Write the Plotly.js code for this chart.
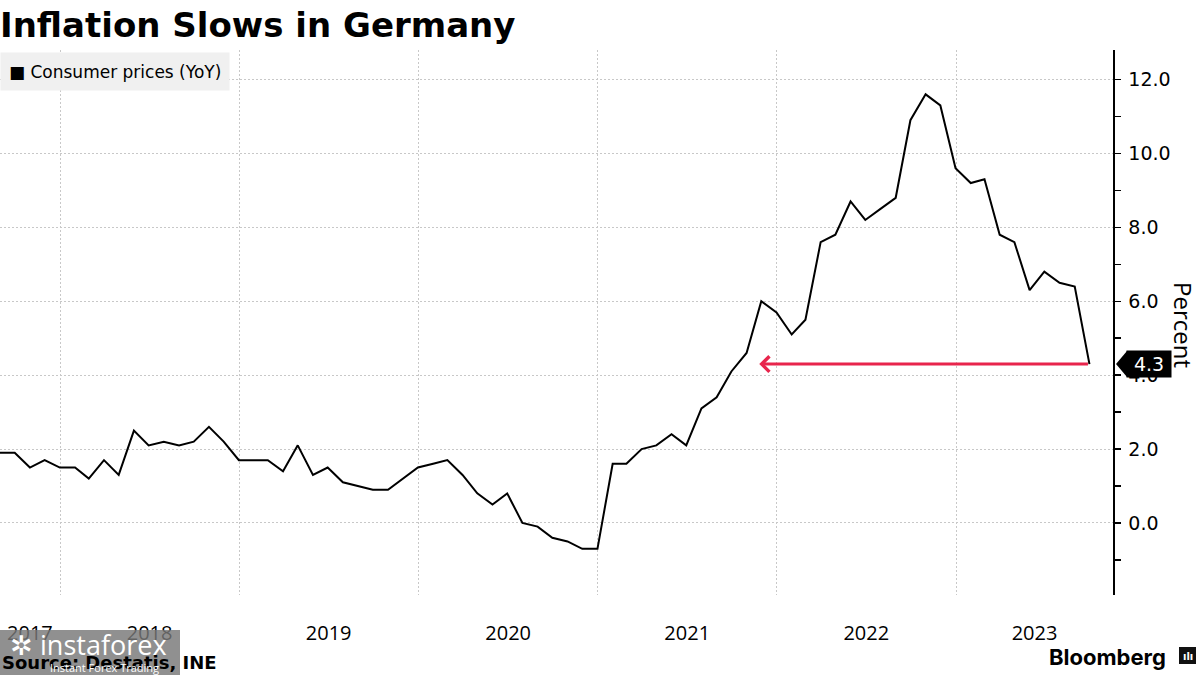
<!DOCTYPE html>
<html>
<head>
<meta charset="utf-8">
<script src="https://cdn.plot.ly/plotly-3.0.1.min.js"></script>
<style>
html,body{margin:0;padding:0;background:#fff;}
#chart{width:1200px;height:675px;}
</style>
</head>
<body>
<div id="chart"></div>
<script>
// ---------- data ----------
const chartTitle = 'Inflation Slows in Germany';
const seriesName = 'Consumer prices (YoY)';
const yTitle = 'Percent';
const sourceText = 'Source: Destatis, INE';
const brandText = 'Bloomberg';

const months = [
  '2017-08','2017-09','2017-10','2017-11','2017-12',
  '2018-01','2018-02','2018-03','2018-04','2018-05','2018-06','2018-07','2018-08','2018-09','2018-10','2018-11','2018-12',
  '2019-01','2019-02','2019-03','2019-04','2019-05','2019-06','2019-07','2019-08','2019-09','2019-10','2019-11','2019-12',
  '2020-01','2020-02','2020-03','2020-04','2020-05','2020-06','2020-07','2020-08','2020-09','2020-10','2020-11','2020-12',
  '2021-01','2021-02','2021-03','2021-04','2021-05','2021-06','2021-07','2021-08','2021-09','2021-10','2021-11','2021-12',
  '2022-01','2022-02','2022-03','2022-04','2022-05','2022-06','2022-07','2022-08','2022-09','2022-10','2022-11','2022-12',
  '2023-01','2023-02','2023-03','2023-04','2023-05','2023-06','2023-07','2023-08','2023-09'
];

const consumerPricesYoY = [
  1.9, 1.9, 1.5, 1.7, 1.5,
  1.5, 1.2, 1.7, 1.3, 2.5, 2.1, 2.2, 2.1, 2.2, 2.6, 2.2, 1.7,
  1.7, 1.7, 1.4, 2.1, 1.3, 1.5, 1.1, 1.0, 0.9, 0.9, 1.2, 1.5,
  1.6, 1.7, 1.3, 0.8, 0.5, 0.8, 0.0, -0.1, -0.4, -0.5, -0.7, -0.7,
  1.6, 1.6, 2.0, 2.1, 2.4, 2.1, 3.1, 3.4, 4.1, 4.6, 6.0, 5.7,
  5.1, 5.5, 7.6, 7.8, 8.7, 8.2, 8.5, 8.8, 10.9, 11.6, 11.3, 9.6,
  9.2, 9.3, 7.8, 7.6, 6.3, 6.8, 6.5, 6.4, 4.3
];

const yearLabels = ['2017','2018','2019','2020','2021','2022','2023'];

// ---------- helpers ----------
const W = 1200, H = 675;
const M = {l: 0, r: 87, t: 50, b: 80};
const px = x => (x - M.l) / (W - M.l - M.r);
const py = y => (H - M.b - y) / (H - M.t - M.b);

function monthEnd(m) {
  const [y, mo] = m.split('-').map(Number);
  return new Date(Date.UTC(y, mo, 0)).toISOString().slice(0, 10);
}
const dates = months.map(monthEnd);
const xStart = dates[0];
const xEnd = '2023-11-17';

const toMs = s => new Date(s + 'T00:00:00Z').getTime();
const msToStr = ms => new Date(ms).toISOString().slice(0, 10);

// year label positions: centre of the visible part of each year
const tickVals = yearLabels.map(y => {
  const a = Math.max(toMs(y + '-01-01'), toMs(xStart));
  const b = Math.min(toMs((+y + 1) + '-01-01'), toMs(xEnd));
  return msToStr((a + b) / 2);
});

// last value and the previous time the series was at that level
const n = consumerPricesYoY.length;
const lastVal = consumerPricesYoY[n - 1];
const lastDate = dates[n - 1];
let crossDate = dates[0];
for (let i = n - 3; i >= 0; i--) {
  const a = consumerPricesYoY[i], b = consumerPricesYoY[i + 1];
  if ((a - lastVal) * (b - lastVal) <= 0 && a !== b) {
    const f = (lastVal - a) / (b - a);
    crossDate = msToStr(toMs(dates[i]) + f * (toMs(dates[i + 1]) - toMs(dates[i])));
    break;
  }
}

const gridStyle = {gridcolor: '#c8c8c8', gridwidth: 1, griddash: '2px,2px'};

const trace = {
  type: 'scatter',
  mode: 'lines',
  name: seriesName,
  x: dates,
  y: consumerPricesYoY,
  line: {color: '#000000', width: 2},
  hoverinfo: 'x+y',
  showlegend: false
};

const layout = {
  width: W, height: H,
  margin: M,
  paper_bgcolor: '#ffffff',
  plot_bgcolor: '#ffffff',
  showlegend: false,
  title: {
    text: chartTitle,
    x: 0, xref: 'container', xanchor: 'left',
    y: 1 - 25 / H, yref: 'container', yanchor: 'middle',
    pad: {l: 0, t: 0},
    font: {family: 'DejaVu Sans', size: 34, color: '#000', weight: 'bold'}
  },
  xaxis: {
    type: 'date',
    range: [xStart, xEnd],
    tickmode: 'array',
    tickvals: tickVals,
    ticktext: yearLabels,
    ticks: '',
    showgrid: false,
    zeroline: false,
    showline: false,
    ticklabelstandoff: 24,
    tickfont: {family: 'Open Sans', size: 20, color: '#000'},
    minor: Object.assign({tick0: '2018-01-01', dtick: 'M12', showgrid: true, ticks: ''}, gridStyle),
    fixedrange: true
  },
  yaxis: Object.assign({
    side: 'right',
    range: [-1.95, 12.8],
    tick0: 0, dtick: 2,
    tickformat: '.1f',
    showgrid: true,
    zeroline: false,
    showline: true, linecolor: '#000', linewidth: 1.5,
    ticks: 'outside', ticklen: 6, tickwidth: 1.5, tickcolor: '#000',
    ticklabelstandoff: 4,
    tickfont: {family: 'DejaVu Sans', size: 19, color: '#000'},
    minor: {tick0: 0, dtick: 1, ticks: 'outside', ticklen: 6, tickwidth: 1.5, tickcolor: '#000', showgrid: false},
    fixedrange: true
  }, gridStyle),
  shapes: [
    // pointer of the last-value tag
    {type: 'path', xref: 'paper', xsizemode: 'pixel', xanchor: 1,
     yref: 'y', ysizemode: 'pixel', yanchor: lastVal,
     path: 'M 3 0 L 14 13 L 14 -13 Z', fillcolor: '#000', line: {width: 0}, layer: 'above'},
    // watermark box
    {type: 'rect', xref: 'paper', yref: 'paper', x0: px(0), x1: px(180), y0: py(630), y1: py(675),
     fillcolor: 'rgba(120,120,120,0.82)', line: {width: 0}, layer: 'above'},
    // brand icon
    {type: 'rect', xref: 'paper', yref: 'paper', x0: px(1179), x1: px(1196), y0: py(664), y1: py(647),
     fillcolor: '#111', line: {width: 0}, layer: 'above'}
  ],
  annotations: [
    // legend
    {xref: 'paper', yref: 'paper', x: px(0), y: py(52), xanchor: 'left', yanchor: 'top',
     text: '■ ' + seriesName, showarrow: false, align: 'left',
     bgcolor: '#f0f0f0', borderpad: 8, width: 212, height: 21,
     font: {family: 'DejaVu Sans', size: 17, color: '#000'}},
    // arrow from last value back to the previous time at that level
    {xref: 'x', yref: 'y', axref: 'x', ayref: 'y',
     x: crossDate, y: lastVal, ax: lastDate, ay: lastVal,
     text: '', showarrow: true, arrowhead: 4, arrowsize: 1, arrowwidth: 3,
     arrowcolor: '#e8254c', standoff: 22, startstandoff: 0},
    // last value tag
    {xref: 'paper', yref: 'y', x: 1, y: lastVal, xanchor: 'left', yanchor: 'middle',
     xshift: 13, text: lastVal.toFixed(1), showarrow: false,
     bgcolor: '#000', borderpad: 1, width: 42, height: 24, align: 'center',
     font: {family: 'DejaVu Sans', size: 19, color: '#fff'}},
    // y-axis title
    {xref: 'paper', yref: 'paper', x: px(1184), y: py(325), xanchor: 'center', yanchor: 'middle',
     text: yTitle, textangle: 90, showarrow: false,
     font: {family: 'Open Sans', size: 24, color: '#000'}},
    // source
    {xref: 'paper', yref: 'paper', x: px(0), y: py(662), xanchor: 'left', yanchor: 'middle',
     text: sourceText, showarrow: false,
     font: {family: 'DejaVu Sans', size: 18, color: '#000', weight: 'bold'}},
    // brand
    {xref: 'paper', yref: 'paper', x: px(1168), y: py(657), xanchor: 'right', yanchor: 'middle',
     text: brandText, showarrow: false,
     font: {family: 'Inter', size: 22, color: '#000', weight: 'bold'}},
    {xref: 'paper', yref: 'paper', x: px(1187.5), y: py(656), xanchor: 'center', yanchor: 'middle',
     text: 'ılı', showarrow: false,
     font: {family: 'DejaVu Sans', size: 10, color: '#fff', weight: 'bold'}},
    // watermark text
    {xref: 'paper', yref: 'paper', x: px(8), y: py(645), xanchor: 'left', yanchor: 'middle',
     text: '✲ instaforex', showarrow: false,
     font: {family: 'Open Sans', size: 27, color: '#ffffff'}},
    {xref: 'paper', yref: 'paper', x: px(48), y: py(667), xanchor: 'left', yanchor: 'middle',
     text: 'Instant Forex Trading', showarrow: false,
     font: {family: 'Open Sans', size: 11, color: '#ffffff'}}
  ]
};

Plotly.newPlot('chart', [trace], layout, {displayModeBar: false, staticPlot: true});
</script>
</body>
</html>
